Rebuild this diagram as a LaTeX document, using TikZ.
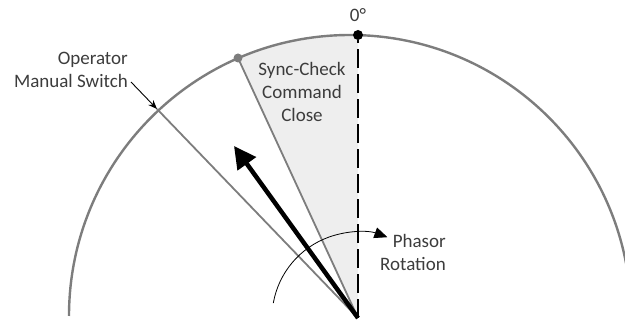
\documentclass[tikz,border=0pt]{standalone}
\usepackage{fontspec}
\setmainfont{Carlito}
\usetikzlibrary{arrows.meta, positioning}
\definecolor{rim}{RGB}{125,125,125}
\definecolor{sector}{RGB}{238,238,238}
\definecolor{txt}{RGB}{60,60,60}
\tikzset{
  rimline/.style={draw=rim, line width=2.4pt},
  radial/.style={draw=rim, line width=1.8pt},
  zeroline/.style={draw=black, line width=2.6pt, dash pattern=on 19pt off 6pt},
  phasor/.style={-{Triangle[length=22pt,width=22pt]}, line width=4.5pt, draw=black},
  rotarrow/.style={-{Triangle[length=13pt,width=11pt]}, line width=0.8pt},
  pointer/.style={-{Stealth[length=9pt,width=7pt]}, line width=0.9pt},
  dot/.style={circle, inner sep=0pt, minimum size=#1},
  label/.style={text=txt, font=\fontsize{19}{23}\selectfont, inner sep=0pt},
}

\begin{document}
\begin{tikzpicture}[x=1pt, y=1pt]
  \clip (0,0) rectangle (625,321);
  \coordinate (O) at (358,3);
  \coordinate (C) at (350,5);
  \coordinate (opsw) at (157,212);
  \coordinate (tip) at (234,175);
  \coordinate (rotstart) at (273.3,17.9);

  % shaded close window
  \fill[sector] (O) -- (358,286) arc[start angle=88.4, end angle=113.5, radius=281pt] -- cycle;
  \draw[rimline] (69,5) arc[start angle=180, end angle=0, radius=281pt];

  \node[dot=10pt, fill=black] (zero) at (358,286) {};
  \node[dot=9pt, fill=rim] (syncdot) at (238,263) {};

  \draw[radial] (O) -- (syncdot.center);
  \draw[radial] (O) -- (opsw);
  \draw[zeroline] (O) -- (zero);
  \draw[phasor] (O) -- (tip);
  \draw[rotarrow] (rotstart) arc[start angle=170, end angle=70, radius=86pt];

  \node[label] (zerolbl) at (358,306) {0°};
  \node[label, align=center] (synclbl) at (302,229) {Sync-Check\\Command\\Close};
  \node[label, align=right, anchor=east] (oplbl) at (128,251) {Operator\\Manual Switch};
  \node[label, align=right, anchor=west] (rotlbl) at (380,69) {Phasor\\Rotation};

  \draw[pointer] ([xshift=3pt,yshift=-12pt]oplbl.east) -- (opsw);
\end{tikzpicture}
\end{document}
